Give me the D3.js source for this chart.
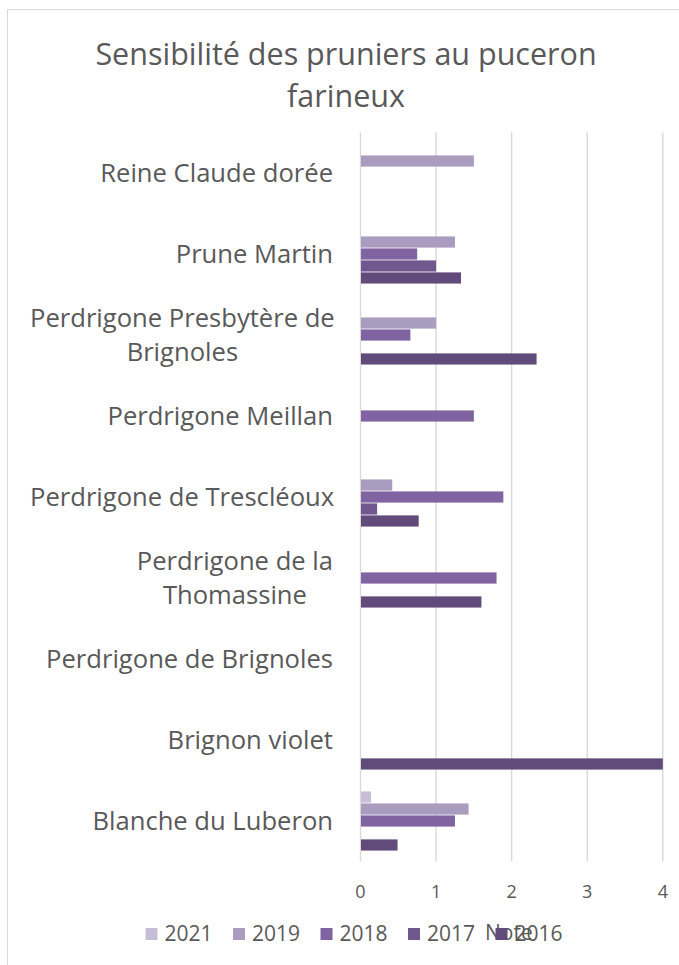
<!DOCTYPE html>
<html>
<head>
<meta charset="utf-8">
<script src="https://cdn.jsdelivr.net/npm/d3@7"></script>
<style>
body { margin: 0; background: #fff; }
text { font-family: "Open Sans", sans-serif; fill: #595959; }
</style>
</head>
<body>
<svg id="chart"></svg>
<script>
// categories top to bottom, "\n" = line break as in the original labels
const categories = [
  "Reine Claude dorée",
  "Prune Martin",
  "Perdrigone Presbytère de\nBrignoles",
  "Perdrigone Meillan",
  "Perdrigone de Trescléoux",
  "Perdrigone de la\nThomassine",
  "Perdrigone de Brignoles",
  "Brignon violet",
  "Blanche du Luberon"
];
const seriesNames = ["2021", "2019", "2018", "2017", "2016"];
const colours = ["#c6bdd6", "#a99cbe", "#8064a2", "#70588f", "#614b7b"];

// values per series, same order as categories (null = no bar)
const v2021 = [null, null, null, null, null, null, null, null, 0.14];
const v2019 = [1.5, 1.25, 1.0, null, 0.42, null, null, null, 1.43];
const v2018 = [null, 0.75, 0.66, 1.5, 1.89, 1.8, null, null, 1.25];
const v2017 = [null, 1.0, null, null, 0.22, null, null, null, null];
const v2016 = [null, 1.33, 2.33, null, 0.77, 1.6, null, 4.0, 0.49];
const seriesValues = [v2021, v2019, v2018, v2017, v2016];

const xTicks = [0, 1, 2, 3, 4];

const width = 679, height = 965;
const margin = {top: 132.5, right: 16, bottom: 103.5, left: 360.5};

const svg = d3.select("#chart")
  .attr("width", width)
  .attr("height", height);

// chart area border
svg.append("rect")
  .attr("x", 7.5).attr("y", 9.5)
  .attr("width", 700).attr("height", 990)
  .attr("fill", "#fff")
  .attr("stroke", "#d9d9d9")
  .attr("stroke-width", 1);

// title
const title = svg.append("text")
  .attr("text-anchor", "middle")
  .style("font-size", "30.5px");
title.append("tspan").attr("x", 346).attr("y", 65).text("Sensibilité des pruniers au puceron");
title.append("tspan").attr("x", 346).attr("y", 106.5).text("farineux");

let x = d3.scaleLinear()
  .domain([0, 4])
  .range([margin.left, width - margin.right - 0.2]);

let y = d3.scaleBand()
  .domain(categories)
  .range([margin.top, height - margin.bottom])
  .paddingInner(0.26)
  .paddingOuter(0.13);

let ySub = d3.scaleBand()
  .domain(seriesNames)
  .range([0, y.bandwidth()]);

// gridlines
svg.append("g")
  .selectAll("line")
  .data(xTicks)
  .enter()
  .append("line")
  .attr("x1", d => x(d)).attr("x2", d => x(d))
  .attr("y1", margin.top).attr("y2", height - margin.bottom)
  .attr("stroke", "#d9d9d9")
  .attr("stroke-width", 1.4);

// bars
let barData = [];
seriesNames.forEach((s, si) => {
  categories.forEach((c, ci) => {
    let v = seriesValues[si][ci];
    if (v != null) barData.push({cat: c, series: s, value: v, colour: colours[si]});
  });
});

svg.append("g")
  .selectAll("rect.bar")
  .data(barData)
  .enter()
  .append("rect")
  .attr("class", "bar")
  .attr("x", x(0) + 0.5)
  .attr("y", d => y(d.cat) + ySub(d.series) + 0.4)
  .attr("width", d => x(d.value) - x(0) - 0.5)
  .attr("height", ySub.bandwidth() - 0.8)
  .style("fill", d => d.colour);

// x axis labels
svg.append("g")
  .selectAll("text")
  .data(xTicks)
  .enter()
  .append("text")
  .attr("x", d => x(d))
  .attr("y", 898)
  .attr("text-anchor", "middle")
  .style("font-size", "18px")
  .text(d => d);

// category labels: block right-aligned at 333, lines centred on each other
const labelRight = 333, labelLeft = 30, lineGap = 34;
const labels = svg.append("g");
categories.forEach(c => {
  let lines = c.split("\n");
  let t = labels.append("text")
    .attr("text-anchor", "middle")
    .style("font-size", "25.6px");
  let spans = lines.map(l => t.append("tspan").text(l));
  let w = d3.max(spans, s => s.node().getComputedTextLength());
  let cx = Math.max(labelLeft + w / 2, labelRight - w / 2);
  let cy = y(c) + y.bandwidth() / 2;
  spans.forEach((s, i) => {
    s.attr("x", cx)
     .attr("y", cy + 9 + (i - (lines.length - 1) / 2) * lineGap);
  });
});

// stray "Note" text sitting under the legend
svg.append("text")
  .attr("x", 485)
  .attr("y", 940)
  .style("font-size", "21px")
  .text("Note");

// legend
const legend = svg.append("g")
  .selectAll("g")
  .data(seriesNames)
  .enter()
  .append("g")
  .attr("transform", (d, i) => `translate(${145.5 + i * 87.5}, 928)`);

legend.append("rect")
  .attr("width", 12).attr("height", 12)
  .style("fill", (d, i) => colours[i]);

legend.append("text")
  .attr("x", 19)
  .attr("y", 12.5)
  .style("font-size", "21px")
  .text(d => d);
</script>
</body>
</html>
